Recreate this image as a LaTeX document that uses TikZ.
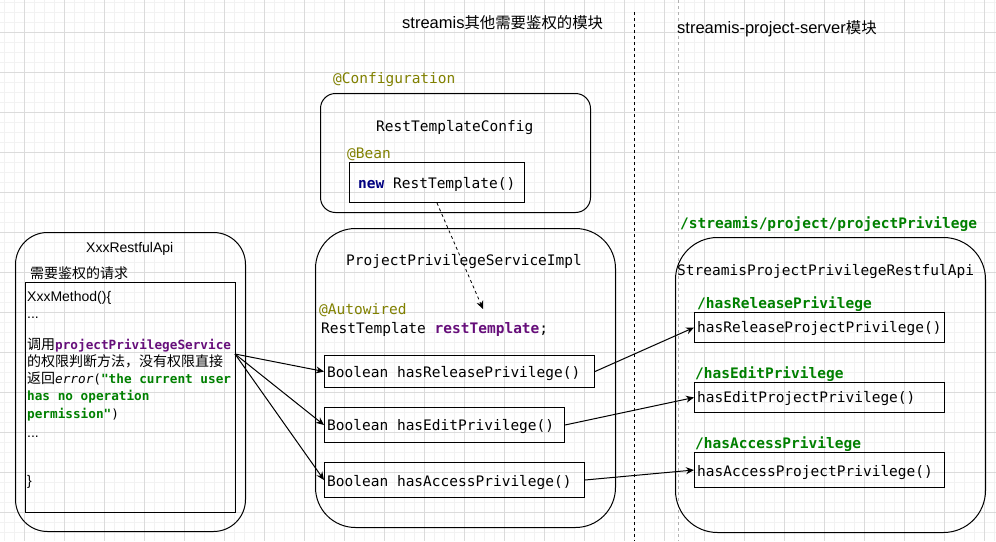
\documentclass[tikz,border=0pt]{standalone}
\usepackage{fontspec}
\setmainfont{Liberation Sans}
\newfontfamily\monofam{DejaVu Sans Mono}
\newfontfamily\cjkfam{Noto Sans CJK SC}
\usetikzlibrary{arrows.meta}
\definecolor{olv}{RGB}{128,128,0}
\definecolor{purp}{RGB}{102,14,122}
\definecolor{grn}{RGB}{0,128,0}
\definecolor{navyc}{RGB}{0,0,128}
\newcommand\codeL{\monofam\fontsize{14.5}{17}\selectfont}
\newcommand\codeS{\monofam\fontsize{12.7}{15}\selectfont}
\newcommand\cjkS{\cjkfam\fontsize{14}{16}\selectfont}
\newcommand\latS{\fontsize{14}{16}\selectfont}
\begin{document}
\begin{tikzpicture}[x=1pt,y=-1pt,
  txt/.style={inner sep=0pt, anchor=base west},
  box/.style={draw, line width=1pt, inner sep=0pt, anchor=north west},
  cont/.style={draw, line width=1pt, inner sep=0pt, anchor=north west},
  arr/.style={-{Stealth[length=8pt,width=7pt]}, line width=1pt},
  minorgrid/.style={draw=black!5, line width=0.8pt},
  majorgrid/.style={draw=black!14, line width=1pt}]
\useasboundingbox (0,0) rectangle (996,541);
% grid
\foreach \x in {4,14,...,994} \draw[minorgrid] (\x,0) -- (\x,541);
\foreach \y in {2,12,...,540} \draw[minorgrid] (0,\y) -- (996,\y);
\foreach \x in {24,64,...,984} \draw[majorgrid] (\x,0) -- (\x,541);
\foreach \y in {32,72,...,512} \draw[majorgrid] (0,\y) -- (996,\y);
% dividers
\coordinate (dvtop) at (634,12);
\coordinate (dvbot) at (634,541);
\draw[line width=1pt, dash pattern=on 3pt off 3pt] (dvtop) -- (dvbot);
\coordinate (gvtop) at (678,0);
\coordinate (gvbot) at (678,541);
\draw[black!30, line width=0.8pt, dash pattern=on 3pt off 3pt] (gvtop) -- (gvbot);
% titles
\node[txt] (t1) at (402,28) {\fontsize{16.5}{18}\selectfont streamis{\cjkfam\fontsize{15.4}{18}\selectfont 其他需要鉴权的模块}};
\node[txt] (t2) at (677,33) {\fontsize{16.5}{18}\selectfont streamis-project-server{\cjkfam\fontsize{15.4}{18}\selectfont 模块}};
% RestTemplateConfig
\node[txt, text=olv] (confann) at (333,83) {\codeL @Configuration};
\node[cont, rounded corners=15pt, minimum width=270pt, minimum height=119pt] (cfg) at (320,93) {};
\node[txt] (cfgt) at (376,131) {\codeL RestTemplateConfig};
\node[txt, text=olv] (beanann) at (347,158) {\codeL @Bean};
\node[box, minimum width=175pt, minimum height=40pt] (newrt) at (349,162) {};
\node[txt] (newrtt) at (358,188) {\codeL\textbf{\color{navyc}new} RestTemplate()};
% ProjectPrivilegeServiceImpl
\node[cont, rounded corners=40pt, minimum width=300pt, minimum height=299pt] (svc) at (315,228) {};
\node[txt] (svct) at (346,265) {\codeL ProjectPrivilegeServiceImpl};
\node[txt, text=olv] (autoann) at (319,314) {\codeL @Autowired};
\node[txt] (rtfield) at (321,333) {\codeL RestTemplate \textbf{\color{purp}restTemplate};};
\node[box, minimum width=270pt, minimum height=32pt] (b1) at (324,355) {};
\node[txt] (b1t) at (327,377) {\codeL Boolean hasReleasePrivilege()};
\node[box, minimum width=240pt, minimum height=35pt] (b2) at (324,407) {};
\node[txt] (b2t) at (327,430) {\codeL Boolean hasEditPrivilege()};
\node[box, minimum width=260pt, minimum height=35pt] (b3) at (324,462) {};
\node[txt] (b3t) at (327,486) {\codeL Boolean hasAccessPrivilege()};
% XxxRestfulApi
\node[cont, rounded corners=32pt, minimum width=230pt, minimum height=299pt] (xxx) at (15,232) {};
\node[txt] (xxxt) at (86,252) {\latS XxxRestfulApi};
\node[txt] (reqt) at (30,278) {\cjkS 需要鉴权的请求};
\node[box, minimum width=210pt, minimum height=230pt] (lin) at (25,282) {};
\node[txt] (l1) at (27,301) {\latS XxxMethod()\{};
\node[txt] (l2) at (27,318) {\latS ...};
\node[txt] (l3) at (27,349) {\cjkS 调用{\codeS\textbf{\color{purp}projectPrivilegeService}}};
\node[txt] (l4) at (27,366) {\cjkS 的权限判断方法，没有权限直接};
\node[txt] (l5) at (27,383) {\cjkS 返回{\codeS\textit{error}(\textbf{\color{grn}"the current user}}};
\node[txt] (l6) at (27,400) {\codeS\textbf{\color{grn}has no operation}};
\node[txt] (l7) at (27,418) {\codeS\textbf{\color{grn}permission"})};
\node[txt] (l8) at (27,437) {\latS ...};
\node[txt] (l9) at (27,485) {\latS \}};
% StreamisProjectPrivilegeRestfulApi
\node[txt, text=grn] (patht) at (680,228) {\codeL\bfseries /streamis/project/projectPrivilege};
\node[cont, rounded corners=42pt, minimum width=310pt, minimum height=295pt] (api) at (675,237) {};
\node[txt] (apit) at (677,275) {\codeL StreamisProjectPrivilegeRestfulApi};
\node[txt, text=grn] (p1) at (697,308) {\codeL\bfseries /hasReleasePrivilege};
\node[box, minimum width=250pt, minimum height=30pt] (r1) at (694,312) {};
\node[txt] (r1t) at (697,332) {\codeL hasReleaseProjectPrivilege()};
\node[txt, text=grn] (p2) at (695,378) {\codeL\bfseries /hasEditPrivilege};
\node[box, minimum width=250pt, minimum height=30pt] (r2) at (694,382) {};
\node[txt] (r2t) at (697,402) {\codeL hasEditProjectPrivilege()};
\node[txt, text=grn] (p3) at (695,448) {\codeL\bfseries /hasAccessPrivilege};
\node[box, minimum width=250pt, minimum height=35pt] (r3) at (694,452) {};
\node[txt] (r3t) at (697,476) {\codeL hasAccessProjectPrivilege()};
% connectors
\coordinate (src) at (235,354);
\draw[arr] (src) -- (b1.west);
\draw[arr] (src) -- (b2.west);
\draw[arr] (src) -- (b3.west);
\draw[arr] (b1.east) -- (r1.west);
\draw[arr] (b2.east) -- (r2.west);
\draw[arr] (b3.east) -- (r3.west);
\coordinate (inj) at (483,309);
\draw[arr, line width=0.8pt, dash pattern=on 3pt off 3pt] (newrt.south) -- (inj);
\end{tikzpicture}
\end{document}
